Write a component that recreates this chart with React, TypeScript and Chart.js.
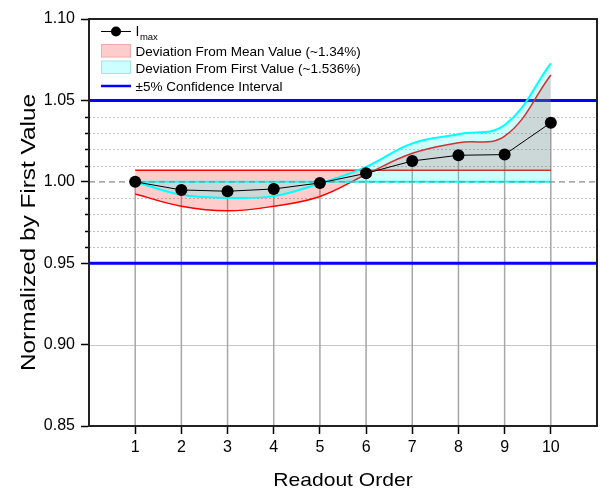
import React, { useEffect, useRef } from 'react';
import { Chart, registerables } from 'chart.js';

Chart.register(...registerables);

// Readout index and the normalized Imax values
const READOUT = [1, 2, 3, 4, 5, 6, 7, 8, 9, 10];
const IMAX = [1.0, 0.995, 0.9942, 0.9956, 0.9993, 1.0052, 1.0128, 1.0163, 1.0167, 1.0363];

// Reference levels
const MEAN_VALUE = 1.0071;
const FIRST_VALUE = 1.0;

// Deviation envelopes (smoothed)
const MEAN_DEVIATION = [0.9925, 0.985, 0.9822, 0.985, 0.991, 1.0045, 1.0175, 1.024, 1.028, 1.0656];
const FIRST_DEVIATION = [1.0, 0.992, 0.9902, 0.9912, 0.999, 1.0092, 1.0236, 1.0292, 1.0349, 1.0728];

// ±5% confidence bounds
const CONFIDENCE_BOUNDS = [0.95, 1.05];

// Axis ticks
const Y_TICKS = [0.85, 0.9, 0.95, 1.0, 1.05, 1.1];
const Y_MINOR = [0.96, 0.97, 0.98, 0.99, 1.01, 1.02, 1.03, 1.04];
const Y_SOLID_GRID = [0.9];
const Y_DASHED_GRID = [1.0];

const LEGEND_LABELS = [
  'I',
  'Deviation From Mean Value (~1.34%)',
  'Deviation From First Value (~1.536%)',
  '\u00b15% Confidence Interval',
];
const LEGEND_SUB = 'max';

const X_TITLE = 'Readout Order';
const Y_TITLE = 'Normalized by First Value';

const FONT = '"Liberation Sans", Arial, Helvetica, sans-serif';
const PINK_FILL = 'rgba(255,0,0,0.2)';
const CYAN_FILL = 'rgba(0,255,255,0.2)';

const pts = (ys: number[]) => READOUT.map((x, i) => ({ x, y: ys[i] }));
const flat = (v: number) => [
  { x: READOUT[0], y: v },
  { x: READOUT[READOUT.length - 1], y: v },
];

const decorPlugin = {
  id: 'decor',
  beforeDatasetsDraw(chart: any) {
    const { ctx, chartArea: a, scales } = chart;
    const x = scales.x;
    const y = scales.y;
    ctx.save();
    ctx.beginPath();
    ctx.rect(a.left, a.top, a.right - a.left, a.bottom - a.top);
    ctx.clip();

    // dotted minor grid
    ctx.strokeStyle = '#c2c2c2';
    ctx.lineWidth = 1;
    ctx.setLineDash([2, 2]);
    for (const v of Y_MINOR) {
      const py = Math.round(y.getPixelForValue(v)) + 0.5;
      ctx.beginPath();
      ctx.moveTo(a.left, py);
      ctx.lineTo(a.right, py);
      ctx.stroke();
    }
    // solid grid
    ctx.setLineDash([]);
    ctx.strokeStyle = '#c8c8c8';
    for (const v of Y_SOLID_GRID) {
      const py = Math.round(y.getPixelForValue(v)) + 0.5;
      ctx.beginPath();
      ctx.moveTo(a.left, py);
      ctx.lineTo(a.right, py);
      ctx.stroke();
    }

    // drop lines from each Imax point to the axis
    ctx.strokeStyle = '#a6a6a6';
    ctx.lineWidth = 1.5;
    READOUT.forEach((rv, i) => {
      const px = x.getPixelForValue(rv);
      ctx.beginPath();
      ctx.moveTo(px, y.getPixelForValue(IMAX[i]));
      ctx.lineTo(px, a.bottom);
      ctx.stroke();
    });

    // confidence bounds
    ctx.strokeStyle = '#0000ff';
    ctx.lineWidth = 3;
    for (const v of CONFIDENCE_BOUNDS) {
      const py = y.getPixelForValue(v);
      ctx.beginPath();
      ctx.moveTo(a.left, py);
      ctx.lineTo(a.right, py);
      ctx.stroke();
    }
    ctx.restore();
  },
  afterDatasetDraw(chart: any, args: any) {
    if (args.index !== 1) return;
    const { ctx, chartArea: a, scales } = chart;
    ctx.save();
    ctx.strokeStyle = '#8a8a8a';
    ctx.lineWidth = 1.3;
    ctx.setLineDash([6, 4]);
    for (const v of Y_DASHED_GRID) {
      const py = scales.y.getPixelForValue(v);
      ctx.beginPath();
      ctx.moveTo(a.left, py);
      ctx.lineTo(a.right, py);
      ctx.stroke();
    }
    ctx.restore();
  },
  afterDraw(chart: any) {
    const { ctx, chartArea: a, scales } = chart;
    const y = scales.y;
    ctx.save();

    // minor ticks on the y axis
    ctx.strokeStyle = '#000';
    ctx.lineWidth = 1.5;
    for (const v of Y_MINOR) {
      const py = Math.round(y.getPixelForValue(v)) + 0.5;
      ctx.beginPath();
      ctx.moveTo(a.left - 4, py);
      ctx.lineTo(a.left, py);
      ctx.stroke();
    }

    // plot frame
    ctx.strokeStyle = '#222';
    ctx.lineWidth = 2;
    ctx.strokeRect(a.left, a.top, a.right - a.left, a.bottom - a.top);

    // axis titles
    ctx.fillStyle = '#000';
    ctx.font = `19px ${FONT}`;
    ctx.textAlign = 'center';
    ctx.textBaseline = 'alphabetic';
    ctx.save();
    ctx.translate((a.left + a.right) / 2, 486);
    ctx.scale(1.11, 1);
    ctx.fillText(X_TITLE, 0, 0);
    ctx.restore();

    ctx.font = `21px ${FONT}`;
    ctx.save();
    ctx.translate(35, 232.5);
    ctx.rotate(-Math.PI / 2);
    ctx.scale(1.16, 1);
    ctx.fillText(Y_TITLE, 0, 0);
    ctx.restore();

    // legend
    const lx = 101;
    const sw = 30;
    const tx = 135.5;
    ctx.textAlign = 'left';
    ctx.textBaseline = 'alphabetic';

    // row 1: Imax line + marker
    const r1 = 31.5;
    ctx.strokeStyle = '#000';
    ctx.lineWidth = 1;
    ctx.beginPath();
    ctx.moveTo(lx, r1);
    ctx.lineTo(lx + sw, r1);
    ctx.stroke();
    ctx.fillStyle = '#000';
    ctx.beginPath();
    ctx.arc(lx + sw / 2, r1, 5, 0, Math.PI * 2);
    ctx.fill();
    ctx.font = `14px ${FONT}`;
    ctx.fillText(LEGEND_LABELS[0], tx, 36);
    const iw = ctx.measureText(LEGEND_LABELS[0]).width;
    ctx.font = `9.5px ${FONT}`;
    ctx.fillText(LEGEND_SUB, tx + iw + 0.5, 40);

    // row 2: mean deviation box
    ctx.fillStyle = PINK_FILL;
    ctx.fillRect(lx, 44, sw, 13.5);
    ctx.strokeStyle = 'rgba(230,150,150,0.6)';
    ctx.lineWidth = 1;
    ctx.strokeRect(lx + 0.5, 44.5, sw - 1, 12.5);
    ctx.fillStyle = '#000';
    ctx.font = `13.5px ${FONT}`;
    ctx.fillText(LEGEND_LABELS[1], tx, 56);

    // row 3: first-value deviation box
    ctx.fillStyle = CYAN_FILL;
    ctx.fillRect(lx, 60.5, sw, 13.5);
    ctx.strokeStyle = 'rgba(150,210,210,0.6)';
    ctx.strokeRect(lx + 0.5, 61, sw - 1, 12.5);
    ctx.fillStyle = '#000';
    ctx.fillText(LEGEND_LABELS[2], tx, 72.5);

    // row 4: confidence line
    ctx.strokeStyle = '#0000ff';
    ctx.lineWidth = 2.5;
    ctx.beginPath();
    ctx.moveTo(lx, 86);
    ctx.lineTo(lx + sw, 86);
    ctx.stroke();
    ctx.fillStyle = '#000';
    ctx.fillText(LEGEND_LABELS[3], tx, 90.5);

    ctx.restore();
  },
};

export default function App() {
  const canvasRef = useRef<HTMLCanvasElement | null>(null);

  useEffect(() => {
    if (!canvasRef.current) return;
    const chart = new Chart(canvasRef.current, {
      type: 'line',
      data: {
        datasets: [
          {
            label: 'Imax',
            data: pts(IMAX),
            borderColor: '#000',
            borderWidth: 1,
            pointRadius: 6,
            pointBackgroundColor: '#000',
            pointBorderWidth: 0,
            fill: false,
            tension: 0,
          },
          {
            label: 'First value',
            data: flat(FIRST_VALUE),
            borderColor: '#00ffff',
            borderWidth: 2,
            pointRadius: 0,
            fill: false,
          },
          {
            label: 'Deviation from first value',
            data: pts(FIRST_DEVIATION),
            borderColor: '#00ffff',
            borderWidth: 2,
            pointRadius: 0,
            tension: 0.4,
            fill: 1,
            backgroundColor: CYAN_FILL,
          },
          {
            label: 'Mean value',
            data: flat(MEAN_VALUE),
            borderColor: '#ff0000',
            borderWidth: 1.5,
            pointRadius: 0,
            fill: false,
          },
          {
            label: 'Deviation from mean value',
            data: pts(MEAN_DEVIATION),
            borderColor: '#ff0000',
            borderWidth: 1.5,
            pointRadius: 0,
            tension: 0.4,
            fill: 3,
            backgroundColor: PINK_FILL,
          },
        ],
      },
      options: {
        animation: false,
        responsive: false,
        devicePixelRatio: 1,
        layout: { autoPadding: false, padding: { left: 0, right: 3, top: 19, bottom: 0 } },
        plugins: {
          legend: { display: false },
          tooltip: { enabled: false },
        },
        scales: {
          x: {
            type: 'linear',
            min: 0,
            max: 11,
            afterBuildTicks: (s: any) => {
              s.ticks = READOUT.map((v) => ({ value: v }));
            },
            afterFit: (s: any) => {
              s.height = 64;
              s.paddingLeft = 0;
              s.paddingRight = 0;
            },
            grid: {
              drawOnChartArea: false,
              drawTicks: true,
              tickLength: 8,
              tickWidth: 1.5,
              tickColor: '#000',
            },
            border: { display: true, color: '#222', width: 2 },
            ticks: {
              padding: 4,
              color: '#000',
              font: { family: FONT, size: 16 },
              callback: (v: any) => String(v),
            },
          },
          y: {
            type: 'linear',
            min: 0.85,
            max: 1.1,
            afterBuildTicks: (s: any) => {
              s.ticks = Y_TICKS.map((v) => ({ value: v }));
            },
            afterFit: (s: any) => {
              s.width = 89;
            },
            grid: {
              drawOnChartArea: false,
              drawTicks: true,
              tickLength: 8,
              tickWidth: 1.5,
              tickColor: '#000',
            },
            border: { display: true, color: '#222', width: 2 },
            ticks: {
              padding: 6,
              color: '#000',
              font: { family: FONT, size: 16 },
              callback: (v: any) => Number(v).toFixed(2),
            },
          },
        },
      },
      plugins: [decorPlugin],
    });
    return () => chart.destroy();
  }, []);

  return (
    <div style={{ position: 'fixed', left: 0, top: 0, width: 600, height: 490, background: '#fff' }}>
      <canvas ref={canvasRef} width={600} height={490} style={{ display: 'block' }} />
    </div>
  );
}
